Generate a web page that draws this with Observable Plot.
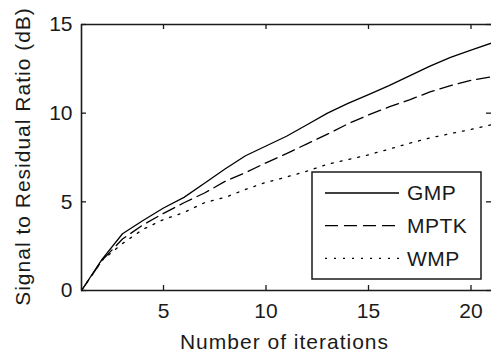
<!DOCTYPE html>
<html><head><meta charset="utf-8">
<script src="https://cdn.jsdelivr.net/npm/d3@7"></script>
<script src="https://cdn.jsdelivr.net/npm/@observablehq/plot@0.6"></script>
<style>html,body{margin:0;padding:0;background:#fff;overflow:hidden}</style>
</head><body><div id="chart"></div>
<script>
const iterations = [1,2,3,4,5,6,7,8,9,10,11,12,13,14,15,16,17,18,19,20,21];
const gmp  = [0, 1.75, 3.2, 3.95, 4.65, 5.25, 6.05, 6.85, 7.6, 8.15, 8.7, 9.35, 10.0, 10.55, 11.05, 11.55, 12.1, 12.65, 13.15, 13.55, 13.95];
const mptk = [0, 1.7, 2.9, 3.7, 4.35, 4.95, 5.5, 6.15, 6.65, 7.2, 7.72, 8.27, 8.82, 9.4, 9.9, 10.35, 10.75, 11.2, 11.55, 11.85, 12.05];
const wmp  = [0, 1.7, 2.65, 3.45, 4.0, 4.4, 4.95, 5.25, 5.7, 6.1, 6.4, 6.73, 7.12, 7.38, 7.65, 7.97, 8.3, 8.6, 8.85, 9.08, 9.35];
const seriesNames = ["GMP", "MPTK", "WMP"];
const xTicks = [5, 10, 15, 20];
const yTicks = [0, 5, 10, 15];
const xLabel = "Number of iterations";
const yLabel = "Signal to Residual Ratio (dB)";

const seriesValues = [gmp, mptk, wmp];
const dashes = [null, "13,6", "2,7"];
const W = 491, H = 354, mL = 81, mR = 0, mT = 24, mB = 64;
const frameW = W - mL - mR, frameH = H - mT - mB;
const ink = "#1a1a1a";
const font = "'Liberation Sans', Arial, sans-serif";
const tk = 5;

const lineMarks = seriesValues.map((vals, s) =>
  Plot.line(iterations.map((x, i) => ({x, y: vals[i]})), {
    x: "x", y: "y", stroke: "#000", strokeWidth: 1.3,
    strokeDasharray: dashes[s] || undefined
  })
);

const chart = Plot.plot({
  width: W, height: H,
  marginLeft: mL, marginRight: mR, marginTop: mT, marginBottom: mB,
  style: {fontFamily: font, fontSize: "21px", color: ink, background: "#fff", overflow: "visible"},
  x: {domain: [1, 21]},
  y: {domain: [0, 15]},
  marks: [
    Plot.axisX(xTicks, {anchor: "bottom", tickSize: 0, tickPadding: 13, fontSize: 21, label: null}),
    Plot.axisY(yTicks, {anchor: "left", tickSize: 0, tickPadding: 9, fontSize: 21, label: null}),
    ...lineMarks,
    Plot.tickX(xTicks, {x: d => d, insetTop: frameH - tk, stroke: ink, strokeWidth: 1.3}),
    Plot.tickX(xTicks, {x: d => d, insetBottom: frameH - tk, stroke: ink, strokeWidth: 1.3}),
    Plot.tickY(yTicks, {y: d => d, insetRight: frameW - tk, stroke: ink, strokeWidth: 1.3}),
    Plot.tickY(yTicks, {y: d => d, insetLeft: frameW - tk, stroke: ink, strokeWidth: 1.3}),
    Plot.ruleX([1], {stroke: ink, strokeWidth: 1.6}),
    Plot.ruleY([0], {stroke: ink, strokeWidth: 1.6}),
    Plot.ruleY([15], {stroke: ink, strokeWidth: 1.6}),
    Plot.text([yLabel], {text: d => d, frameAnchor: "left", rotate: -90, dx: -52, dy: -1, lineAnchor: "bottom", textAnchor: "middle", fontSize: 21, fill: ink}),
    Plot.text([xLabel], {text: d => d, frameAnchor: "bottom", dy: 58, dx: -2, lineAnchor: "bottom", textAnchor: "middle", fontSize: 21, fill: ink})
  ]
});

const svg = d3.select(chart);
svg.selectAll("text").filter(function() { const t = this.textContent; return t === xLabel || t === yLabel; })
  .style("letter-spacing", "1px");

// legend
const boxW = 169, boxH = 107;
const bx = W - mR - 10 - boxW, by = H - mB - 11 - boxH;
const lg = svg.append("g");
lg.append("rect").attr("x", bx).attr("y", by).attr("width", boxW).attr("height", boxH)
  .attr("fill", "#fff").attr("stroke", ink).attr("stroke-width", 1.5);
seriesNames.forEach((name, i) => {
  const yy = by + 21 + i * 32.7;
  lg.append("line").attr("x1", bx + 13).attr("x2", bx + 87).attr("y1", yy).attr("y2", yy)
    .attr("stroke", "#000").attr("stroke-width", 1.3)
    .attr("stroke-dasharray", dashes[i]);
  lg.append("text").attr("x", bx + 95).attr("y", yy).attr("dy", "0.35em")
    .attr("text-anchor", "start")
    .attr("font-family", font).attr("font-size", 21).attr("fill", ink)
    .style("letter-spacing", "0.5px").text(name);
});

document.getElementById("chart").appendChild(chart);
</script>
</body></html>
